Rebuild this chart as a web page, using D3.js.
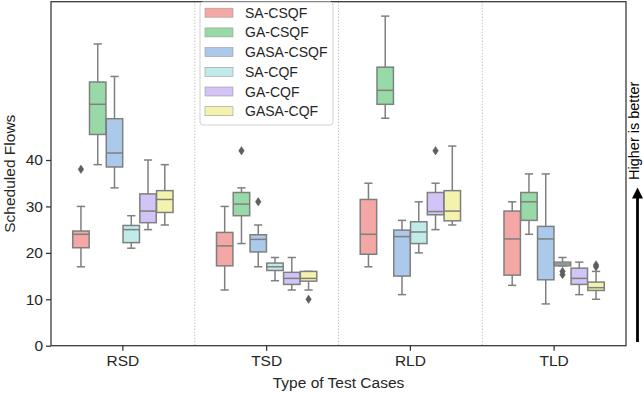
<!DOCTYPE html>
<html>
<head>
<meta charset="utf-8">
<script src="https://cdn.jsdelivr.net/npm/d3@7"></script>
<style>
  body { margin: 0; background: #fff; }
  svg { display: block; font-family: "Liberation Sans", Arial, sans-serif; }
</style>
</head>
<body>
<svg id="chart" width="643" height="394"></svg>
<script>
// categories and series
var categories = ["RSD", "TSD", "RLD", "TLD"]
var seriesNames = ["SA-CSQF", "GA-CSQF", "GASA-CSQF", "SA-CQF", "GA-CQF", "GASA-CQF"]
var seriesColors = ["#f3a8a5", "#98daa7", "#abc9ea", "#c0ebe9", "#d3c4f7", "#f4f3ae"]

// box stats per category: [whisker low, q1, median, q3, whisker high]
var saCsqf   = [[17, 21.1, 24, 24.7, 30], [12, 17.2, 21.5, 24.4, 30], [17, 19.7, 24, 31.5, 35], [13, 15.2, 23, 29, 31]]
var gaCsqf   = [[39, 45.5, 52, 56.8, 65], [22, 28, 30.5, 33, 34], [49, 52, 55, 60, 71], [24, 27, 31, 33, 37]]
var gasaCsqf = [[34, 38.5, 41.5, 48.9, 58], [17, 20.2, 22.9, 23.9, 26], [11, 15, 23.5, 24.9, 27], [9, 14.2, 23, 25.7, 37]]
var saCqf    = [[21, 22.2, 25, 25.9, 28], [14, 16.2, 17, 17.8, 19], [20, 22, 24.5, 26.7, 31], [17.2, 17.2, 17.6, 18, 19]]
var gaCqf    = [[25, 26.5, 29, 32.7, 40], [12, 13.2, 14.5, 15.8, 19], [25, 28.2, 28.9, 33, 35], [11, 13.2, 14.5, 16.7, 18]]
var gasaCqf  = [[26, 28.7, 31.5, 33.4, 39], [12, 13.9, 14.5, 16, 16], [26, 26.9, 29, 33.4, 43], [10, 11.9, 12.5, 13.7, 16]]

// outliers per category
var saCsqfOut   = [[38], [], [], []]
var gaCsqfOut   = [[], [42], [], []]
var gasaCsqfOut = [[], [31], [], []]
var saCqfOut    = [[], [], [], [16, 15.3]]
var gaCqfOut    = [[], [], [42], []]
var gasaCqfOut  = [[], [10], [], [17, 17.4]]

var yTicks = [0, 10, 20, 30, 40]
var yMax = 74.1

var stats = [saCsqf, gaCsqf, gasaCsqf, saCqf, gaCqf, gasaCqf]
var outliers = [saCsqfOut, gaCsqfOut, gasaCsqfOut, saCqfOut, gaCqfOut, gasaCqfOut]

var svg = d3.select("#chart")
var pLeft = 51, pRight = 626, pTop = 1.7, pBottom = 345.7
var lineColor = "#7f7f7f"

var x = d3.scaleBand().domain(categories).range([pLeft, pRight])
var bw = x.bandwidth()
var inner = d3.scaleBand().domain(seriesNames).range([bw * 0.15, bw * 0.85])
var y = d3.scaleLinear().domain([0, yMax]).range([pBottom, pTop])

// dotted separators between groups
svg.append("g").selectAll("line")
    .data(categories.slice(1))
    .enter().append("line")
    .attr("x1", function(d) { return x(d) })
    .attr("x2", function(d) { return x(d) })
    .attr("y1", pTop).attr("y2", pBottom)
    .attr("stroke", "#aaa").attr("stroke-width", 0.8)
    .attr("stroke-dasharray", "1.2,1.8")

// flatten into box records
var boxes = []
seriesNames.forEach(function(s, si) {
    categories.forEach(function(c, ci) {
        boxes.push({ s: s, si: si, c: c, v: stats[si][ci], out: outliers[si][ci] })
    })
})

var g = svg.append("g")
var boxW = inner.bandwidth() * 0.98
var capW = boxW * 0.5

var bx = g.selectAll("g.box").data(boxes).enter().append("g")
    .attr("class", "box")
    .attr("transform", function(d) {
        return "translate(" + (x(d.c) + inner(d.s) + inner.bandwidth() / 2) + ",0)"
    })

// whiskers
bx.append("line").attr("x1", 0).attr("x2", 0)
    .attr("y1", function(d) { return y(d.v[0]) }).attr("y2", function(d) { return y(d.v[1]) })
    .attr("stroke", lineColor).attr("stroke-width", 1.5)
bx.append("line").attr("x1", 0).attr("x2", 0)
    .attr("y1", function(d) { return y(d.v[3]) }).attr("y2", function(d) { return y(d.v[4]) })
    .attr("stroke", lineColor).attr("stroke-width", 1.5)
// caps
bx.append("line").attr("x1", -capW / 2).attr("x2", capW / 2)
    .attr("y1", function(d) { return y(d.v[0]) }).attr("y2", function(d) { return y(d.v[0]) })
    .attr("stroke", lineColor).attr("stroke-width", 1.5)
bx.append("line").attr("x1", -capW / 2).attr("x2", capW / 2)
    .attr("y1", function(d) { return y(d.v[4]) }).attr("y2", function(d) { return y(d.v[4]) })
    .attr("stroke", lineColor).attr("stroke-width", 1.5)
// box
bx.append("rect")
    .attr("x", -boxW / 2).attr("width", boxW)
    .attr("y", function(d) { return y(d.v[3]) })
    .attr("height", function(d) { return y(d.v[1]) - y(d.v[3]) })
    .attr("fill", function(d) { return seriesColors[d.si] })
    .attr("stroke", lineColor).attr("stroke-width", 1.5)
// median
bx.append("line").attr("x1", -boxW / 2).attr("x2", boxW / 2)
    .attr("y1", function(d) { return y(d.v[2]) }).attr("y2", function(d) { return y(d.v[2]) })
    .attr("stroke", lineColor).attr("stroke-width", 1.5)
// outliers (thin diamonds)
bx.selectAll("path.flier").data(function(d) { return d.out }).enter().append("path")
    .attr("class", "flier")
    .attr("d", function(v) {
        var cy = y(v)
        return "M0," + (cy - 4.2) + "L2.8," + cy + "L0," + (cy + 4.2) + "L-2.8," + cy + "Z"
    })
    .attr("fill", "#5e5e5e").attr("stroke", "#5e5e5e").attr("stroke-width", 0.5)

// axes
var yAxis = svg.append("g").attr("transform", "translate(" + pLeft + ",0)")
    .call(d3.axisLeft(y).tickValues(yTicks).tickSize(5).tickPadding(3).tickSizeOuter(0))
var xAxis = svg.append("g").attr("transform", "translate(0," + pBottom + ")")
    .call(d3.axisBottom(x).tickSize(5).tickPadding(4).tickSizeOuter(0))
yAxis.select(".domain").remove()
xAxis.select(".domain").remove()
svg.selectAll(".tick line").attr("stroke", "#333").attr("stroke-width", 1.25)
svg.selectAll(".tick text").attr("fill", "#262626").style("font-size", "15.5px")
    .style("font-family", "'Liberation Sans', Arial, sans-serif")

// frame
svg.append("rect").attr("x", pLeft).attr("y", pTop)
    .attr("width", pRight - pLeft).attr("height", pBottom - pTop)
    .attr("fill", "none").attr("stroke", "#333").attr("stroke-width", 1.25)

// axis labels
svg.append("text").attr("x", (pLeft + pRight) / 2).attr("y", 388)
    .attr("text-anchor", "middle").attr("fill", "#262626").style("font-size", "15.5px")
    .text("Type of Test Cases")
svg.append("text").attr("transform", "translate(15," + ((pTop + pBottom) / 2) + ") rotate(-90)")
    .attr("text-anchor", "middle").attr("fill", "#262626").style("font-size", "15.5px")
    .text("Scheduled Flows")

// legend
var lg = svg.append("g").attr("transform", "translate(200,2)")
lg.append("rect").attr("width", 133).attr("height", 123).attr("rx", 3)
    .attr("fill", "#fff").attr("fill-opacity", 0.8)
    .attr("stroke", "#d0d0d0").attr("stroke-width", 1)
var li = lg.selectAll("g.item").data(seriesNames).enter().append("g")
    .attr("class", "item")
    .attr("transform", function(d, i) { return "translate(0," + (10.7 + i * 19.7) + ")" })
li.append("rect").attr("x", 5).attr("y", -4.5).attr("width", 28).attr("height", 9)
    .attr("fill", function(d, i) { return seriesColors[i] })
    .attr("stroke", "#9a9a9a").attr("stroke-width", 0.6)
li.append("text").attr("x", 45).attr("y", 5)
    .attr("fill", "#262626").style("font-size", "14px")
    .text(function(d) { return d })

// "higher is better" arrow
svg.append("defs").append("marker").attr("id", "head")
    .attr("viewBox", "0 0 10 10").attr("refX", 5).attr("refY", 5)
    .attr("markerWidth", 4).attr("markerHeight", 4).attr("orient", "auto")
    .append("path").attr("d", "M0,0L10,5L0,10Z").attr("fill", "#000")
svg.append("line").attr("x1", 637.5).attr("x2", 637.5).attr("y1", 342).attr("y2", 193)
    .attr("stroke", "#000").attr("stroke-width", 2.8).attr("marker-end", "url(#head)")
svg.append("text").attr("transform", "translate(639,180) rotate(-90)")
    .attr("fill", "#000").style("font-size", "14.5px")
    .text("Higher is better")
</script>
</body>
</html>
